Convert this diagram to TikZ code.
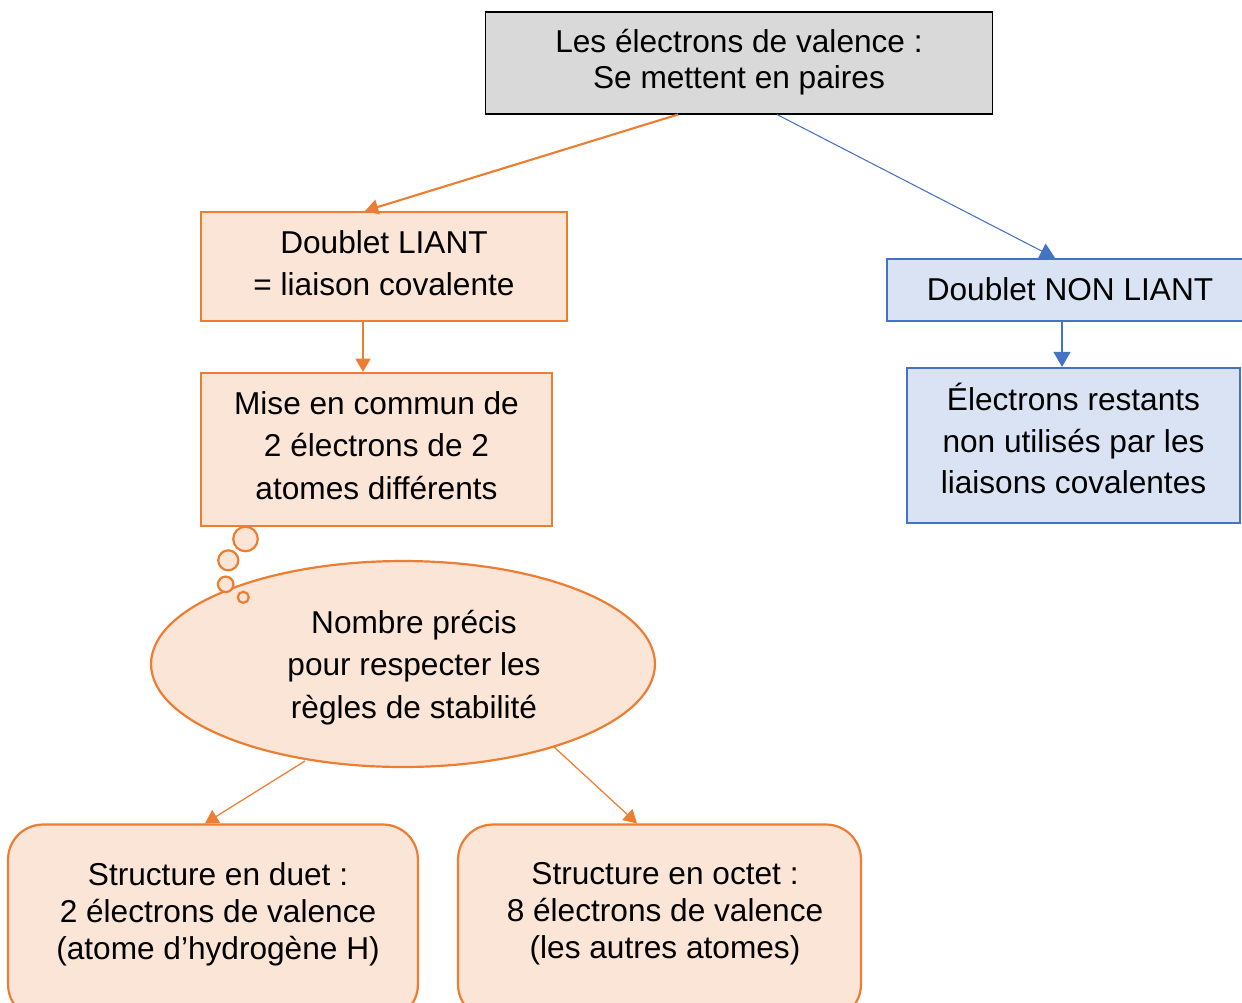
\documentclass[tikz,border=0pt]{standalone}
\usepackage{fontspec}
\setmainfont{Liberation Sans}
\usetikzlibrary{arrows.meta,shapes.geometric,calc}
\definecolor{orng}{HTML}{ED7D31}
\definecolor{orngfill}{HTML}{FBE5D6}
\definecolor{blu}{HTML}{4472C4}
\definecolor{blufill}{HTML}{DAE3F3}
\definecolor{gry}{HTML}{D9D9D9}
\begin{document}
\begin{tikzpicture}[x=0.02cm,y=-0.02cm,
  txt/.style={align=center,font=\fontsize{18}{23.8}\selectfont,inner sep=0pt},
  obox/.style={draw=orng,fill=orngfill,line width=1.25pt,rectangle,inner sep=0pt},
  bbox/.style={draw=blu,fill=blufill,line width=1.25pt,rectangle,inner sep=0pt},
  rbox/.style={draw=orng,fill=orngfill,line width=1.25pt,rectangle,rounded corners=0.7cm,inner sep=0pt},
  oarr/.style={draw=orng,-{Triangle[width=8.5pt,length=7.5pt]}},
  barr/.style={draw=blu,-{Triangle[width=9.5pt,length=8.5pt]}},
  bubble/.style={draw=orng,fill=orngfill,line width=1.25pt}
]
\useasboundingbox (0,0) rectangle (1242,1002);
\fill[white] (0,0) rectangle (1242,1002);

\node[draw=black,fill=gry,line width=0.6pt,minimum width=10.16cm,minimum height=2.04cm,inner sep=0pt] (top) at (739,63) {};
\node[txt,font=\fontsize{18}{20.4}\selectfont] (toptxt) at (739,62) {Les électrons de valence :\\Se mettent en paires};

\node[obox,minimum width=7.32cm,minimum height=2.18cm] (liant) at (384,266.5) {};
\node[txt] (lianttxt) at (384,263.5) {Doublet LIANT\\= liaison covalente};
\node[obox,minimum width=7.02cm,minimum height=3.06cm] (mise) at (376.5,449.5) {};
\node[txt,font=\fontsize{18}{24.3}\selectfont] (misetxt) at (376.5,445.5) {Mise en commun de\\2 électrons de 2\\atomes différents};

\node[bbox,minimum width=7.32cm,minimum height=1.24cm] (nonliant) at (1070,290) {};
\node[txt] (nonlianttxt) at (1070,289) {Doublet NON LIANT};
\node[bbox,minimum width=6.66cm,minimum height=3.1cm] (restants) at (1073.5,445.5) {};
\node[txt] (restantstxt) at (1073.5,438.5) {Électrons restants\\non utilisés par les\\liaisons covalentes};

\node[ellipse,draw=orng,fill=orngfill,line width=1.25pt,minimum width=10.08cm,minimum height=4.12cm] (ell) at (403,664) {};
\node[txt,font=\fontsize{18}{24}\selectfont] (elltxt) at (414,667.5) {Nombre précis\\pour respecter les\\règles de stabilité};

\draw[bubble] (245.5,539) circle[radius=0.245cm];
\draw[bubble] (228.3,560.3) circle[radius=0.2cm];
\draw[bubble] (225.7,584.3) circle[radius=0.155cm];
\draw[bubble] (243.3,597.3) circle[radius=0.11cm];

\node[rbox,minimum width=8.2cm,minimum height=3.9cm] (duet) at (213,922) {};
\node[txt,font=\fontsize{18}{21}\selectfont] (duettxt) at (218,914) {Structure en duet :\\2 électrons de valence\\(atome d’hydrogène H)};
\node[rbox,minimum width=8.06cm,minimum height=3.9cm] (octet) at (659.5,922) {};
\node[txt,font=\fontsize{18}{21}\selectfont] (octettxt) at (665,914) {Structure en octet :\\8 électrons de valence\\(les autres atomes)};

\draw[oarr,line width=1.2pt] ($(top.south)+(-61,0)$) -- ($(liant.north)+(-19,0)$);
\draw[barr,line width=0.6pt] ($(top.south)+(38,0)$) -- ($(nonliant.north)+(-15,0)$);
\draw[barr,line width=1.2pt] ($(nonliant.south)+(-8,0)$) -- ($(restants.north)+(-11.5,0)$);
\draw[oarr,line width=0.8pt] ($(liant.south)+(-21,0)$) -- ($(mise.north)+(-13.5,0)$);
\draw[oarr,line width=0.7pt] ($(ell.center)+(-98,97)$) -- ($(duet.north)+(-8,0)$);
\draw[oarr,line width=0.7pt] ($(ell.center)+(150,82)$) -- ($(octet.north)+(-22.5,0)$);
\end{tikzpicture}
\end{document}
